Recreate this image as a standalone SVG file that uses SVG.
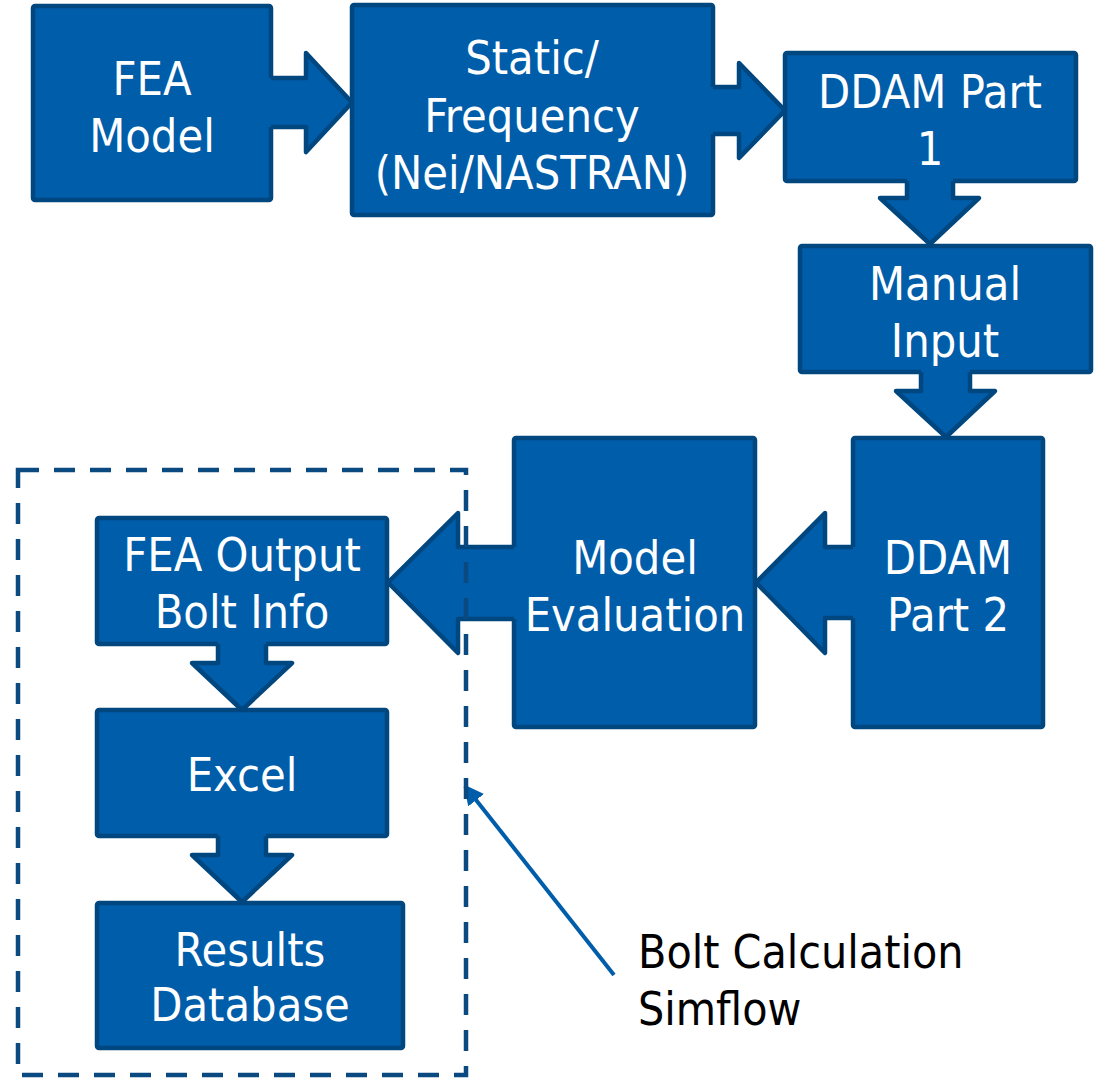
<svg xmlns="http://www.w3.org/2000/svg" width="1097" height="1079" viewBox="0 0 1097 1079">
<style>
.box{fill:#005DAA;stroke:#00467F;stroke-width:4.5;stroke-linejoin:round}
.af{fill:#005DAA;stroke:none}
.ao{fill:none;stroke:#00467F;stroke-width:4.5;stroke-linejoin:round}
.t{font-family:"DejaVu Sans Condensed","DejaVu Sans",sans-serif;font-stretch:condensed;font-size:46.5px;fill:#ffffff;text-anchor:middle}
.lbl{font-family:"DejaVu Sans Condensed","DejaVu Sans",sans-serif;font-stretch:condensed;font-size:46px;fill:#000000}
.dash{fill:none;stroke:#0B4A80;stroke-width:4.5;stroke-dasharray:21 15}
</style>
<defs>
<marker id="ptr" viewBox="0 0 10 10" refX="9" refY="5" markerWidth="5" markerHeight="5" orient="auto" markerUnits="strokeWidth">
<path d="M0,0 L10,5 L0,10 z" fill="#005DAA"/>
</marker>
</defs>
<rect width="1097" height="1079" fill="#ffffff"/>
<g id="n-fea-model"><rect class="box" x="33" y="6" width="238" height="194" rx="2"/><text class="t" x="152" y="95">FEA</text><text class="t" x="152" y="152">Model</text></g>
<g id="n-static"><rect class="box" x="352" y="5" width="361" height="210" rx="2"/><text class="t" x="532" y="74">Static/</text><text class="t" x="532" y="132">Frequency</text><text class="t" x="532" y="189">(Nei/NASTRAN)</text></g>
<g id="n-ddam1"><rect class="box" x="785" y="53" width="291" height="128" rx="2"/><text class="t" x="930" y="108">DDAM Part</text><text class="t" x="930" y="165">1</text></g>
<g id="n-manual"><rect class="box" x="800" y="246" width="291" height="126" rx="2"/><text class="t" x="945" y="300">Manual</text><text class="t" x="945" y="357">Input</text></g>
<g id="n-ddam2"><rect class="box" x="853" y="438" width="190" height="289" rx="2"/><text class="t" x="948" y="574">DDAM</text><text class="t" x="948" y="631">Part 2</text></g>
<g id="n-modeleval"><rect class="box" x="514" y="438" width="241" height="289" rx="2"/><text class="t" x="635" y="574">Model</text><text class="t" x="635" y="631">Evaluation</text></g>
<g id="n-feaout"><rect class="box" x="97" y="518" width="290" height="126" rx="2"/><text class="t" x="242" y="571">FEA Output</text><text class="t" x="242" y="628">Bolt Info</text></g>
<g id="n-excel"><rect class="box" x="97" y="710" width="290" height="126" rx="2"/><text class="t" x="242" y="791">Excel</text></g>
<g id="n-results"><rect class="box" x="97" y="903" width="306" height="145" rx="2"/><text class="t" x="250" y="966">Results</text><text class="t" x="250" y="1021">Database</text></g>
<g id="connectors">
<path class="af" d="M265,78 H306 V53 L352,102.5 L306,152 V127 H265 z"/>
<path class="ao" d="M271,78 H306 V53 L352,102.5 L306,152 V127 H271"/>
<path class="af" d="M707,87 H739 V63 L785,110.5 L739,158 V134 H707 z"/>
<path class="ao" d="M713,87 H739 V63 L785,110.5 L739,158 V134 H713"/>
<path class="af" d="M907,175 V198 H880 L930,244 L979,198 H953 V175 z"/>
<path class="ao" d="M907,181 V198 H880 L930,244 L979,198 H953 V181"/>
<path class="af" d="M921,366 V391 H896 L946,437 L995,391 H970 V366 z"/>
<path class="ao" d="M921,372 V391 H896 L946,437 L995,391 H970 V372"/>
<path class="af" d="M859,547 H825 V513 L756,582.5 L825,653 V618 H859 z"/>
<path class="ao" d="M853,547 H825 V513 L756,582.5 L825,653 V618 H853"/>
<path class="af" d="M520,547 H458 V513 L388,582.5 L458,653 V619 H520 z"/>
<path class="ao" d="M514,547 H458 V513 L388,582.5 L458,653 V619 H514"/>
<path class="af" d="M218,638 V663 H192 L242,710 L292,663 H266 V638 z"/>
<path class="ao" d="M218,644 V663 H192 L242,710 L292,663 H266 V644"/>
<path class="af" d="M218,830 V855 H192 L242,902 L292,855 H266 V830 z"/>
<path class="ao" d="M218,836 V855 H192 L242,902 L292,855 H266 V836"/>
<line x1="614" y1="975" x2="465" y2="786" stroke="#005DAA" stroke-width="4" marker-end="url(#ptr)"/>
</g>
<g id="group-boltcalc"><rect class="dash" x="18" y="470" width="448" height="605"/></g>
<g id="label-boltcalc"><text class="lbl" x="638" y="968">Bolt Calculation</text><text class="lbl" x="638" y="1025">Simflow</text></g>
</svg>
